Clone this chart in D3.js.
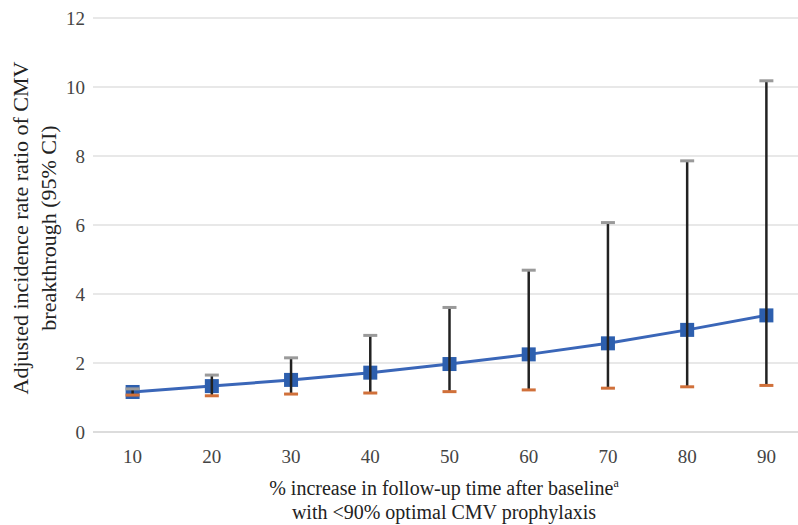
<!DOCTYPE html>
<html>
<head>
<meta charset="utf-8">
<script src="https://cdn.jsdelivr.net/npm/d3@7"></script>
<style>
body{margin:0;background:#fff;}
text{font-family:"Liberation Serif","DejaVu Serif",serif;}
</style>
</head>
<body>
<svg id="chart"></svg>
<script>
// data
var categories = ["10","20","30","40","50","60","70","80","90"];
var ratio = [1.16,1.33,1.51,1.72,1.97,2.25,2.57,2.96,3.38];
var upper = [1.25,1.65,2.15,2.80,3.61,4.69,6.07,7.86,10.18];
var lower = [1.07,1.05,1.10,1.13,1.17,1.22,1.27,1.31,1.35];
var yTicks = [0,2,4,6,8,10,12];

var screen = {width:798, height:525};
var margins = {top:18, bottom:93, left:93, right:-8};
var graph = {
    width:screen.width-margins.left-margins.right,
    height:screen.height-margins.top-margins.bottom
};

var svg = d3.select("#chart")
    .attr("width",screen.width)
    .attr("height",screen.height);

var xScale = d3.scaleBand()
    .domain(categories)
    .range([margins.left, margins.left+graph.width]);

var yScale = d3.scaleLinear()
    .domain([0,12])
    .range([margins.top+graph.height, margins.top]);

// gridlines
svg.append("g")
    .selectAll("line")
    .data(yTicks)
    .enter()
    .append("line")
    .attr("x1",margins.left)
    .attr("x2",screen.width)
    .attr("y1",function(d){return yScale(d)})
    .attr("y2",function(d){return yScale(d)})
    .style("stroke",function(d){return d==0?"#d0d0d0":"#e0e0e0"})
    .style("stroke-width",1.5);

// y tick labels
var yAxis = d3.axisLeft(yScale).tickValues(yTicks).tickSize(0).tickPadding(0);
svg.append("g")
    .attr("transform","translate("+(margins.left-8)+",0)")
    .call(yAxis)
    .call(function(g){g.select(".domain").remove()})
    .selectAll("text")
    .style("font-size","19px")
    .style("fill","#444");

// x tick labels
var xAxis = d3.axisBottom(xScale).tickSize(0).tickPadding(0);
svg.append("g")
    .attr("transform","translate(0,"+(margins.top+graph.height+17)+")")
    .call(xAxis)
    .call(function(g){g.select(".domain").remove()})
    .selectAll("text")
    .style("font-size","19px")
    .style("fill","#444");

var cx = function(i){return xScale(categories[i])+xScale.bandwidth()/2};
var idx = d3.range(categories.length);

// line + markers
var line = d3.line()
    .x(function(i){return cx(i)})
    .y(function(i){return yScale(ratio[i])});

svg.append("path")
    .datum(idx)
    .attr("d",line)
    .style("fill","none")
    .style("stroke","#3a66b8")
    .style("stroke-width",3);

svg.append("g")
    .selectAll("rect")
    .data(idx)
    .enter()
    .append("rect")
    .attr("x",function(i){return cx(i)-7})
    .attr("y",function(i){return yScale(ratio[i])-7})
    .attr("width",14)
    .attr("height",14)
    .style("fill","#2d5fae");

// error bars (drawn over the markers)
svg.append("g")
    .selectAll("line")
    .data(idx)
    .enter()
    .append("line")
    .attr("x1",cx).attr("x2",cx)
    .attr("y1",function(i){return yScale(upper[i])})
    .attr("y2",function(i){return yScale(lower[i])})
    .style("stroke","#222")
    .style("stroke-width",2.5);

svg.append("g")
    .selectAll("line")
    .data(idx)
    .enter()
    .append("line")
    .attr("x1",function(i){return cx(i)-7})
    .attr("x2",function(i){return cx(i)+7})
    .attr("y1",function(i){return yScale(upper[i])})
    .attr("y2",function(i){return yScale(upper[i])})
    .style("stroke","#9a9a9a")
    .style("stroke-width",3);

svg.append("g")
    .selectAll("line")
    .data(idx)
    .enter()
    .append("line")
    .attr("x1",function(i){return cx(i)-7})
    .attr("x2",function(i){return cx(i)+7})
    .attr("y1",function(i){return yScale(lower[i])})
    .attr("y2",function(i){return yScale(lower[i])})
    .style("stroke","#d0703a")
    .style("stroke-width",3);

// labels
var labels = svg.append("g");
labels.append("text")
    .attr("transform","translate(28,228) rotate(-90)")
    .attr("text-anchor","middle")
    .style("font-size","22px")
    .style("fill","#222")
    .text("Adjusted incidence rate ratio of CMV");
labels.append("text")
    .attr("transform","translate(56,228) rotate(-90)")
    .attr("text-anchor","middle")
    .style("font-size","22px")
    .style("fill","#222")
    .text("breakthrough (95% CI)");

labels.append("text")
    .attr("x",444).attr("y",495)
    .attr("text-anchor","middle")
    .style("font-size","20px")
    .style("fill","#222")
    .text("% increase in follow-up time after baseline")
    .append("tspan")
    .attr("dy",-8)
    .style("font-size","12px")
    .text("a");
labels.append("text")
    .attr("x",444).attr("y",519)
    .attr("text-anchor","middle")
    .style("font-size","20px")
    .style("fill","#222")
    .text("with <90% optimal CMV prophylaxis");
</script>
</body>
</html>
